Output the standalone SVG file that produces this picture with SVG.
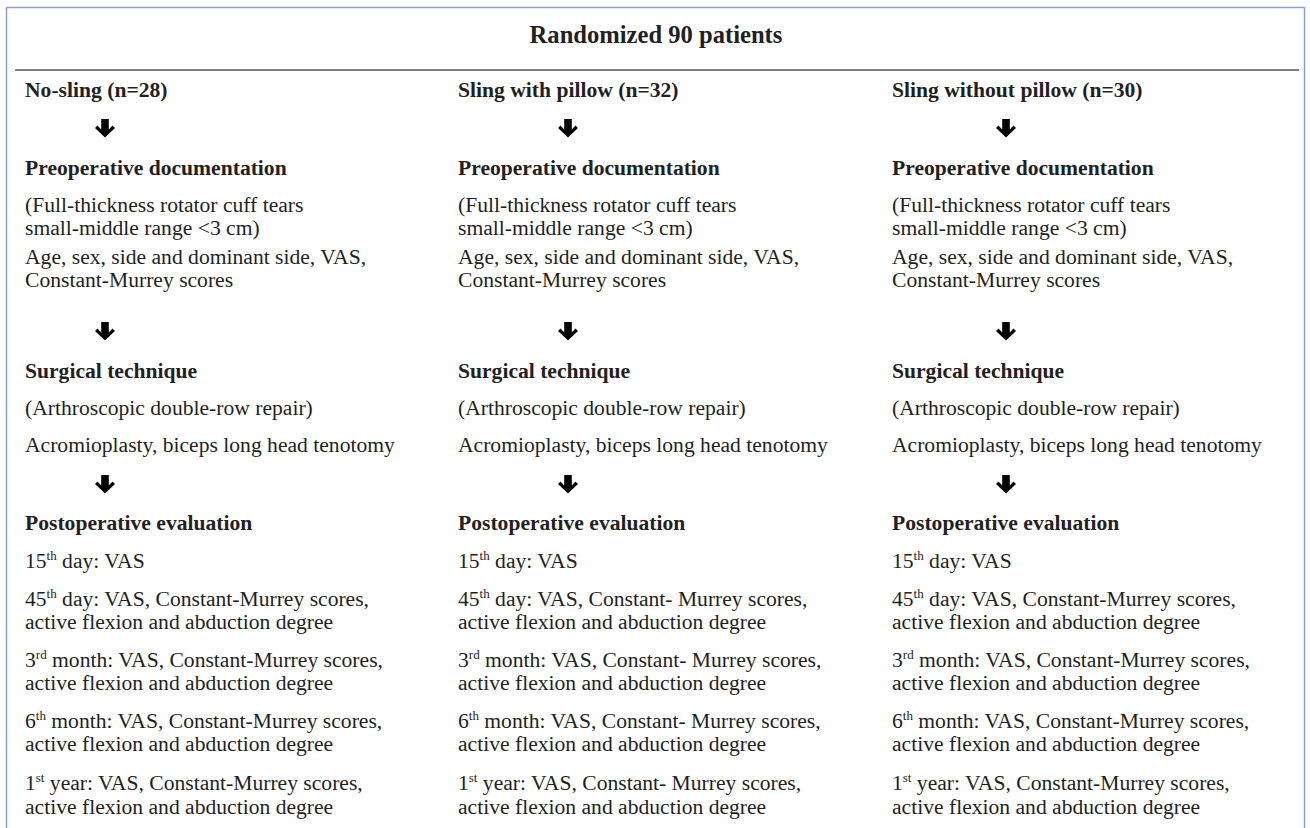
<svg xmlns="http://www.w3.org/2000/svg" xmlns:xlink="http://www.w3.org/1999/xlink" width="1310" height="828" viewBox="0 0 1310 828">
<style>
text{font-family:"Liberation Serif","Times New Roman",serif;fill:#231f20;font-size:21.6px}
.b{font-weight:bold}
.t{font-weight:bold;font-size:24.6px}
.sup{font-size:13px}
.frame{fill:none;stroke:#8c9bd4;stroke-width:1.4}
.rule{stroke:#555;stroke-width:1.4}
</style>
<defs>
<path id="arr" d="M-3.8,0 L3.8,0 L3.8,10.5 L7.5,6.5 L10,9 L0,18.5 L-10,9 L-7.5,6.5 L-3.8,10.5 Z" fill="#000"/>
</defs>
<rect class="frame" x="6.5" y="7.5" width="1298" height="840"/>
<g id="title">
<text class="t" x="656" y="43" text-anchor="middle">Randomized 90 patients</text>
<line class="rule" x1="15" y1="70" x2="1299" y2="70"/>
</g>
<g id="col1">
<text class="b" x="25" y="97">No-sling (n=28)</text>
<g id="col1-preop">
<text class="b" x="25" y="175">Preoperative documentation</text>
<text x="25" y="212">(Full-thickness rotator cuff tears</text>
<text x="25" y="235">small-middle range &lt;3 cm)</text>
<text x="25" y="264">Age, sex, side and dominant side, VAS,</text>
<text x="25" y="287">Constant-Murrey scores</text>
</g>
<g id="col1-surg">
<text class="b" x="25" y="378">Surgical technique</text>
<text x="25" y="415">(Arthroscopic double-row repair)</text>
<text x="25" y="452">Acromioplasty, biceps long head tenotomy</text>
</g>
<g id="col1-postop">
<text class="b" x="25" y="530">Postoperative evaluation</text>
<text x="25" y="568">15<tspan class="sup" dy="-8">th</tspan><tspan dy="8"> day: VAS</tspan></text>
<text x="25" y="606">45<tspan class="sup" dy="-8">th</tspan><tspan dy="8"> day: VAS, Constant-Murrey scores,</tspan></text>
<text x="25" y="629">active flexion and abduction degree</text>
<text x="25" y="667">3<tspan class="sup" dy="-8">rd</tspan><tspan dy="8"> month: VAS, Constant-Murrey scores,</tspan></text>
<text x="25" y="690">active flexion and abduction degree</text>
<text x="25" y="728">6<tspan class="sup" dy="-8">th</tspan><tspan dy="8"> month: VAS, Constant-Murrey scores,</tspan></text>
<text x="25" y="751">active flexion and abduction degree</text>
<text x="25" y="790">1<tspan class="sup" dy="-8">st</tspan><tspan dy="8"> year: VAS, Constant-Murrey scores,</tspan></text>
<text x="25" y="814">active flexion and abduction degree</text>
</g>
</g>
<g id="col2">
<text class="b" x="458" y="97">Sling with pillow (n=32)</text>
<g id="col2-preop">
<text class="b" x="458" y="175">Preoperative documentation</text>
<text x="458" y="212">(Full-thickness rotator cuff tears</text>
<text x="458" y="235">small-middle range &lt;3 cm)</text>
<text x="458" y="264">Age, sex, side and dominant side, VAS,</text>
<text x="458" y="287">Constant-Murrey scores</text>
</g>
<g id="col2-surg">
<text class="b" x="458" y="378">Surgical technique</text>
<text x="458" y="415">(Arthroscopic double-row repair)</text>
<text x="458" y="452">Acromioplasty, biceps long head tenotomy</text>
</g>
<g id="col2-postop">
<text class="b" x="458" y="530">Postoperative evaluation</text>
<text x="458" y="568">15<tspan class="sup" dy="-8">th</tspan><tspan dy="8"> day: VAS</tspan></text>
<text x="458" y="606">45<tspan class="sup" dy="-8">th</tspan><tspan dy="8"> day: VAS, Constant- Murrey scores,</tspan></text>
<text x="458" y="629">active flexion and abduction degree</text>
<text x="458" y="667">3<tspan class="sup" dy="-8">rd</tspan><tspan dy="8"> month: VAS, Constant- Murrey scores,</tspan></text>
<text x="458" y="690">active flexion and abduction degree</text>
<text x="458" y="728">6<tspan class="sup" dy="-8">th</tspan><tspan dy="8"> month: VAS, Constant- Murrey scores,</tspan></text>
<text x="458" y="751">active flexion and abduction degree</text>
<text x="458" y="790">1<tspan class="sup" dy="-8">st</tspan><tspan dy="8"> year: VAS, Constant- Murrey scores,</tspan></text>
<text x="458" y="814">active flexion and abduction degree</text>
</g>
</g>
<g id="col3">
<text class="b" x="892" y="97">Sling without pillow (n=30)</text>
<g id="col3-preop">
<text class="b" x="892" y="175">Preoperative documentation</text>
<text x="892" y="212">(Full-thickness rotator cuff tears</text>
<text x="892" y="235">small-middle range &lt;3 cm)</text>
<text x="892" y="264">Age, sex, side and dominant side, VAS,</text>
<text x="892" y="287">Constant-Murrey scores</text>
</g>
<g id="col3-surg">
<text class="b" x="892" y="378">Surgical technique</text>
<text x="892" y="415">(Arthroscopic double-row repair)</text>
<text x="892" y="452">Acromioplasty, biceps long head tenotomy</text>
</g>
<g id="col3-postop">
<text class="b" x="892" y="530">Postoperative evaluation</text>
<text x="892" y="568">15<tspan class="sup" dy="-8">th</tspan><tspan dy="8"> day: VAS</tspan></text>
<text x="892" y="606">45<tspan class="sup" dy="-8">th</tspan><tspan dy="8"> day: VAS, Constant-Murrey scores,</tspan></text>
<text x="892" y="629">active flexion and abduction degree</text>
<text x="892" y="667">3<tspan class="sup" dy="-8">rd</tspan><tspan dy="8"> month: VAS, Constant-Murrey scores,</tspan></text>
<text x="892" y="690">active flexion and abduction degree</text>
<text x="892" y="728">6<tspan class="sup" dy="-8">th</tspan><tspan dy="8"> month: VAS, Constant-Murrey scores,</tspan></text>
<text x="892" y="751">active flexion and abduction degree</text>
<text x="892" y="790">1<tspan class="sup" dy="-8">st</tspan><tspan dy="8"> year: VAS, Constant-Murrey scores,</tspan></text>
<text x="892" y="814">active flexion and abduction degree</text>
</g>
</g>
<g id="connectors">
<use href="#arr" x="105" y="119"/>
<use href="#arr" x="105" y="322"/>
<use href="#arr" x="105" y="475"/>
<use href="#arr" x="568" y="119"/>
<use href="#arr" x="568" y="322"/>
<use href="#arr" x="568" y="475"/>
<use href="#arr" x="1006" y="119"/>
<use href="#arr" x="1006" y="322"/>
<use href="#arr" x="1006" y="475"/>
</g>
</svg>
